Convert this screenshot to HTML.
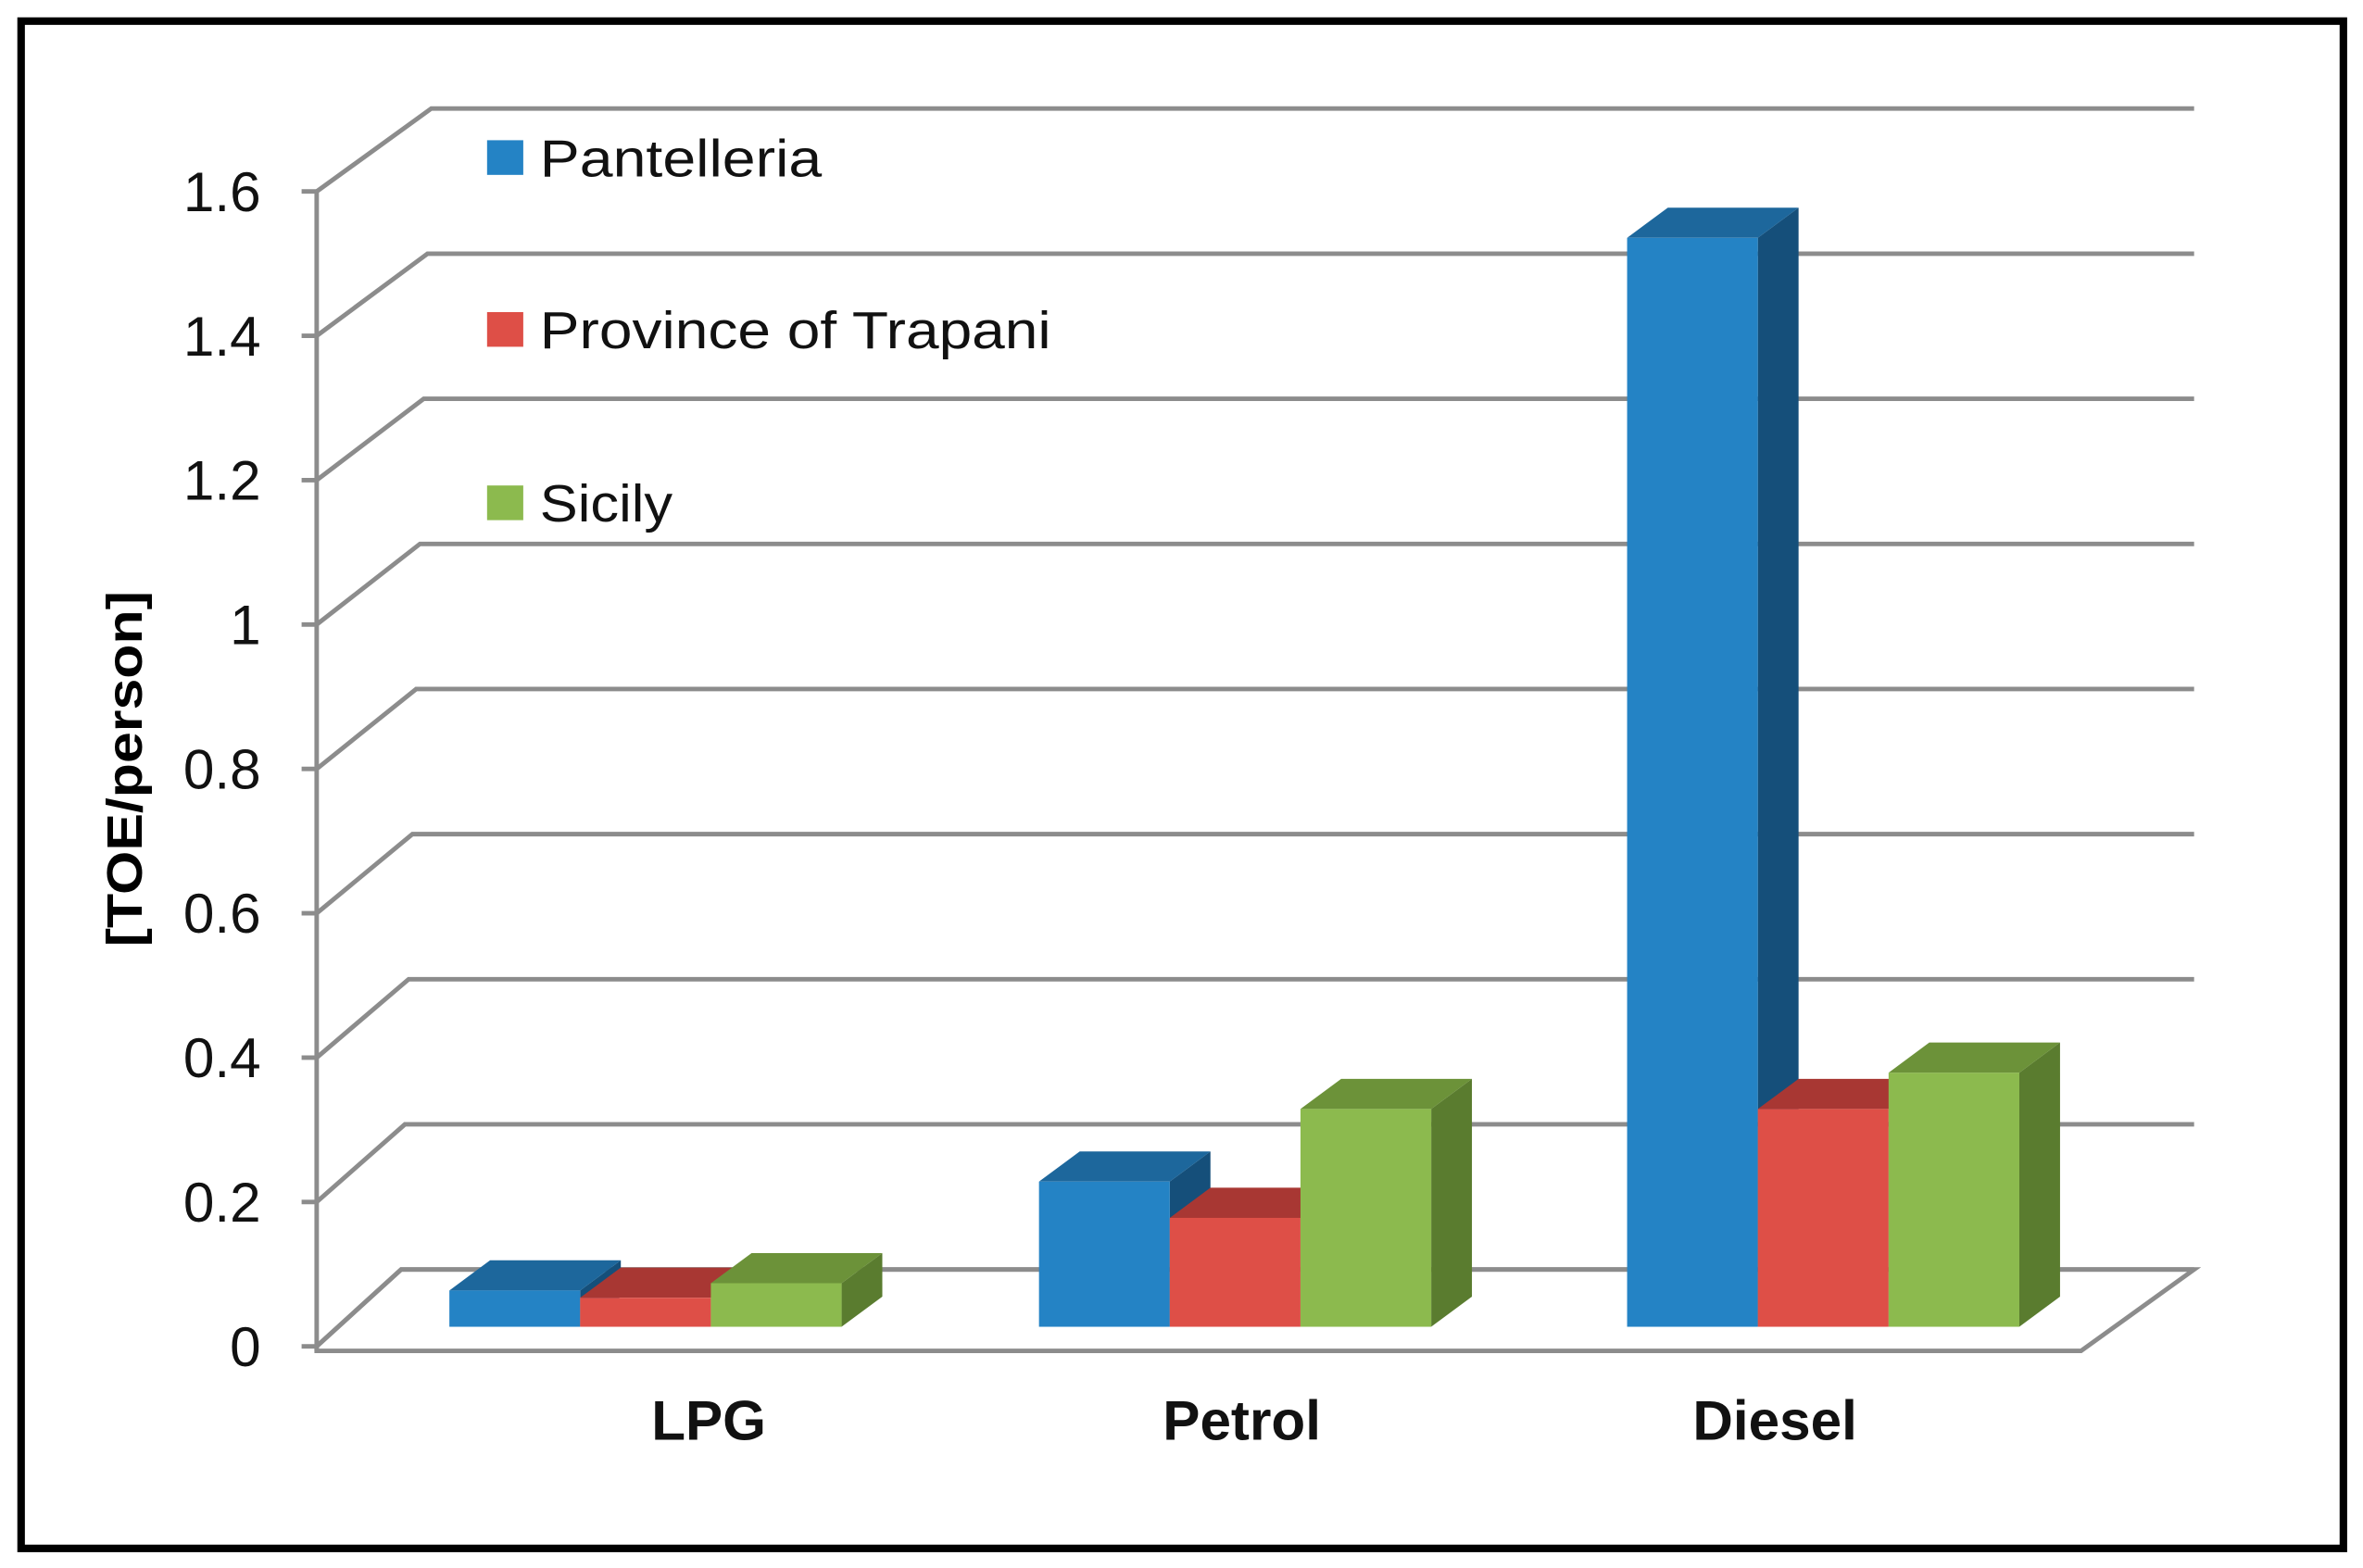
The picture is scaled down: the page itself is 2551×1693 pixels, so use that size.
<!DOCTYPE html>
<html><head><meta charset="utf-8"><style>
html,body{margin:0;padding:0;background:#fff;}
svg{display:block;}
text{font-family:"Liberation Sans","DejaVu Sans",sans-serif;}
</style></head><body>
<svg id="chart" width="2551" height="1693" viewBox="0 0 1567 1040" preserveAspectRatio="none" xmlns="http://www.w3.org/2000/svg">
<rect x="14" y="14" width="1540" height="1013" fill="#fff" stroke="#000" stroke-width="5"/>
<g id="grid"></g>
<g id="bars"></g>
<g id="labels"></g>
<text x="0" y="0" transform="translate(94,510) rotate(-90)" text-anchor="middle" font-size="33" font-weight="bold" fill="#000" textLength="236" lengthAdjust="spacingAndGlyphs">[TOE/person]</text>
<g>
<rect x="323" y="93" width="24" height="23" fill="#2483c5"/>
<text x="358" y="117" font-size="35" fill="#111" textLength="187" lengthAdjust="spacingAndGlyphs">Pantelleria</text>
<rect x="323" y="207" width="24" height="23" fill="#de4f47"/>
<text x="358" y="231" font-size="35" fill="#111" textLength="339" lengthAdjust="spacingAndGlyphs">Province of Trapani</text>
<rect x="323" y="322" width="24" height="23" fill="#8cba4e"/>
<text x="358" y="346" font-size="35" fill="#111" textLength="88" lengthAdjust="spacingAndGlyphs">Sicily</text>
</g>
</svg>
<script>
const categories = ["LPG", "Petrol", "Diesel"];
const pantelleria = [0.05, 0.20, 1.50];
const trapani = [0.04, 0.15, 0.30];
const sicily = [0.06, 0.30, 0.35];
const tickLabels = ["0", "0.2", "0.4", "0.6", "0.8", "1", "1.2", "1.4", "1.6"];
const tickValues = [0, 0.2, 0.4, 0.6, 0.8, 1.0, 1.2, 1.4, 1.6];

const NS = "http://www.w3.org/2000/svg";
const VMAX = 1.6;
function mk(tag, attrs, parent) {
  const e = document.createElementNS(NS, tag);
  for (const k in attrs) e.setAttribute(k, attrs[k]);
  parent.appendChild(e);
  return e;
}
function yFront(v) { return 893 - v / VMAX * (893 - 127); }
function yBack(v) { return 842 - v / VMAX * (842 - 72); }
function xBackStart(v) { return 266 + v / VMAX * (286 - 266); }
function yBar(v) { return 880 - v * 481.5; }
const groupStart = [298, 689, 1079];
const barW = 86.7;
const dX = 27, dY = -20;
function xBar(ci, si) { return groupStart[ci] + si * barW; }
function xLabel(ci) { return 470 + ci * 353.5; }

const grid = document.getElementById('grid');
const floor = mk('polygon', {points: `210,893 ${xBackStart(0)},842 1455,842 1380,896 210,896`, fill: 'none', stroke: '#8c8c8c', 'stroke-width': 3}, grid);


const ax = mk('line', {x1: 210, y1: yFront(VMAX), x2: 210, y2: 896, stroke: '#8c8c8c', 'stroke-width': 3}, grid);


const labels = document.getElementById('labels');
tickValues.forEach((v, i) => {
  const g = mk('polyline', {points: `210,${yFront(v)} ${xBackStart(v)},${yBack(v)} 1455,${yBack(v)}`, fill: 'none', stroke: '#8c8c8c', 'stroke-width': 3}, grid);
  
  
  const t = mk('line', {x1: 200, y1: yFront(v), x2: 210, y2: yFront(v), stroke: '#8c8c8c', 'stroke-width': 3}, grid);
  
  
  const tx = mk('text', {x: 173, y: yFront(v) + 13, 'text-anchor': 'end', 'font-size': 37, fill: '#111'}, labels);
  
  
  tx.textContent = tickLabels[i];
});

const series = [pantelleria, trapani, sicily];
const colors = [
  ['#2483c5', '#1d679c', '#154f7a'],
  ['#de4f47', '#a83733', '#a83733'],
  ['#8cba4e', '#6c9239', '#5a7c2f']
];
const sNames = ['pantelleria', 'trapani', 'sicily'];
const bars = document.getElementById('bars');
categories.forEach((c, ci) => {
  series.forEach((arr, si) => {
    const v = arr[ci];
    const x = xBar(ci, si), y0 = yBar(0), y1 = yBar(v);
    const g = mk('g', {}, bars);
    
    
    mk('polygon', {points: `${x+barW},${y0} ${x+barW+dX},${y0+dY} ${x+barW+dX},${y1+dY} ${x+barW},${y1}`, fill: colors[si][2]}, g);
    mk('polygon', {points: `${x},${y1} ${x+dX},${y1+dY} ${x+barW+dX},${y1+dY} ${x+barW},${y1}`, fill: colors[si][1]}, g);
    mk('rect', {x: x, y: y1, width: barW, height: y0 - y1, fill: colors[si][0]}, g);
  });
  const cl = mk('text', {x: xLabel(ci), y: 955, 'text-anchor': 'middle', 'font-size': 37, 'font-weight': 'bold', fill: '#111'}, labels);
  
  
  cl.textContent = c;
});
</script>
</body></html>
